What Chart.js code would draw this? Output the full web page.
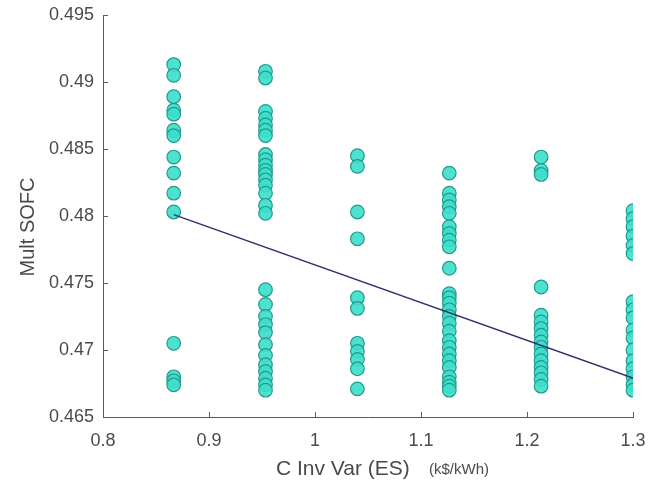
<!DOCTYPE html>
<html>
<head>
<meta charset="utf-8">
<script src="https://cdn.jsdelivr.net/npm/chart.js@4"></script>
<style>
  html, body { margin: 0; padding: 0; background: #ffffff; }
  #wrap { width: 650px; height: 487px; }
</style>
</head>
<body>
<div id="wrap"><canvas id="chart" width="650" height="487"></canvas></div>
<script>
// x position of each column of runs
const columnX = [0.8667, 0.9533, 1.04, 1.1267, 1.2133, 1.3];

// Mult SOFC values
const col1 = [0.4913, 0.4905, 0.4889, 0.4879, 0.4876, 0.4864, 0.4860, 0.4844, 0.4832, 0.4817, 0.4803,
  0.4705, 0.4680, 0.4677, 0.4674];
const col2 = [0.4908, 0.4903, 0.4878, 0.4873, 0.4868, 0.4864, 0.4860, 0.4846, 0.4842, 0.4838, 0.4834,
  0.4831, 0.4827, 0.4823, 0.4817, 0.4808, 0.4802,
  0.4745, 0.4734, 0.4725, 0.4719, 0.4713, 0.4704, 0.4696, 0.4689, 0.4684, 0.4679, 0.4674, 0.4670];
const col3 = [0.4845, 0.4837, 0.4803, 0.4783, 0.4739, 0.4731, 0.4705, 0.4699, 0.4693, 0.4686, 0.4671];
const col4 = [0.4832, 0.4817, 0.4812, 0.4807, 0.4802, 0.4792, 0.4787, 0.4782, 0.4777, 0.4761,
  0.4742, 0.4739, 0.4735, 0.4730, 0.4725, 0.4720, 0.4714, 0.4707, 0.4702, 0.4697, 0.4692,
  0.4687, 0.4680, 0.4676, 0.4673, 0.4670];
const col5 = [0.4844, 0.4834, 0.4831, 0.4747, 0.4726, 0.4721, 0.4716, 0.4711, 0.4706, 0.4702,
  0.4697, 0.4692, 0.4687, 0.4683, 0.4678, 0.4673];
const col6 = [0.4804, 0.4798, 0.4792, 0.4785, 0.4778, 0.4772,
  0.4736, 0.4730, 0.4724, 0.4715, 0.4709, 0.4700, 0.4692, 0.4686, 0.4680, 0.4674, 0.4670];

// fitted trend line
const fitX = [0.8667, 1.3];
const fitY = [0.4801, 0.4679];

// axis ranges and tick steps
const xRange = [0.8, 1.3];
const yRange = [0.465, 0.495];
const xStep = 0.1;
const yStep = 0.005;

const xTitle = "C Inv Var (ES)";
const xUnit = "(k$/kWh)";
const yTitle = "Mult SOFC";

const columns = [col1, col2, col3, col4, col5, col6];
const points = [];
columns.forEach((vals, i) => {
  vals.forEach((v) => points.push({ x: columnX[i], y: v }));
});
const fitLine = fitX.map((x, i) => ({ x, y: fitY[i] }));

const FONT = "'Liberation Sans', Arial, sans-serif";
const TEXT = "#4a4a4a";
const AXIS = "#5a5a5a";

const matlabLook = {
  id: "matlabLook",
  afterDraw(chart) {
    const { ctx, chartArea, scales } = chart;
    ctx.save();
    // inward tick marks
    ctx.strokeStyle = AXIS;
    ctx.lineWidth = 1;
    ctx.beginPath();
    scales.y.ticks.forEach((t) => {
      const py = Math.round(scales.y.getPixelForValue(t.value)) + 0.5;
      ctx.moveTo(chartArea.left, py);
      ctx.lineTo(chartArea.left + 5, py);
    });
    scales.x.ticks.forEach((t) => {
      const px = Math.round(scales.x.getPixelForValue(t.value)) + 0.5;
      ctx.moveTo(px, chartArea.bottom);
      ctx.lineTo(px, chartArea.bottom - 5);
    });
    ctx.stroke();

    // axis titles
    ctx.fillStyle = TEXT;
    ctx.textBaseline = "alphabetic";
    ctx.textAlign = "left";
    ctx.font = "21px " + FONT;
    ctx.fillText(xTitle, 276, 475);
    ctx.font = "15px " + FONT;
    ctx.fillText(xUnit, 429, 474);

    ctx.translate(34, 227);
    ctx.rotate(-Math.PI / 2);
    ctx.textAlign = "center";
    ctx.font = "20px " + FONT;
    ctx.fillText(yTitle, 0, 0);
    ctx.restore();
  },
};

const fmt = (v) => String(parseFloat(Number(v).toFixed(3)));

// keep the plot box fixed: no extra room for label overhang
function fixBox(scale, size) {
  if (scale.isHorizontal()) scale.height = size;
  else scale.width = size;
  scale.paddingTop = 0;
  scale.paddingBottom = 0;
  scale.paddingLeft = 0;
  scale.paddingRight = 0;
}

new Chart(document.getElementById("chart"), {
  type: "scatter",
  data: {
    datasets: [
      {
        label: "fit",
        type: "line",
        data: fitLine,
        borderColor: "#2e2f6b",
        borderWidth: 1.5,
        pointRadius: 0,
        fill: false,
        order: 0,
      },
      {
        label: "runs",
        data: points,
        backgroundColor: "rgba(62, 222, 204, 0.92)",
        borderColor: "#23998c",
        borderWidth: 1.2,
        pointRadius: 6.8,
        order: 1,
      },
    ],
  },
  options: {
    responsive: false,
    animation: false,
    layout: { padding: { top: 15, right: 17, left: 0, bottom: 0 } },
    plugins: {
      legend: { display: false },
      tooltip: { enabled: false },
    },
    scales: {
      x: {
        type: "linear",
        min: xRange[0],
        max: xRange[1],
        afterFit(scale) { fixBox(scale, 70); },
        ticks: {
          stepSize: xStep,
          padding: 13,
          color: TEXT,
          font: { family: FONT, size: 18 },
          callback: fmt,
        },
        grid: { display: false, drawTicks: false },
        border: { color: AXIS, width: 1 },
      },
      y: {
        type: "linear",
        min: yRange[0],
        max: yRange[1],
        afterFit(scale) { fixBox(scale, 103); },
        ticks: {
          stepSize: yStep,
          padding: 9,
          color: TEXT,
          font: { family: FONT, size: 18 },
          callback: fmt,
        },
        grid: { display: false, drawTicks: false },
        border: { color: AXIS, width: 1 },
      },
    },
  },
  plugins: [matlabLook],
});
</script>
</body>
</html>
